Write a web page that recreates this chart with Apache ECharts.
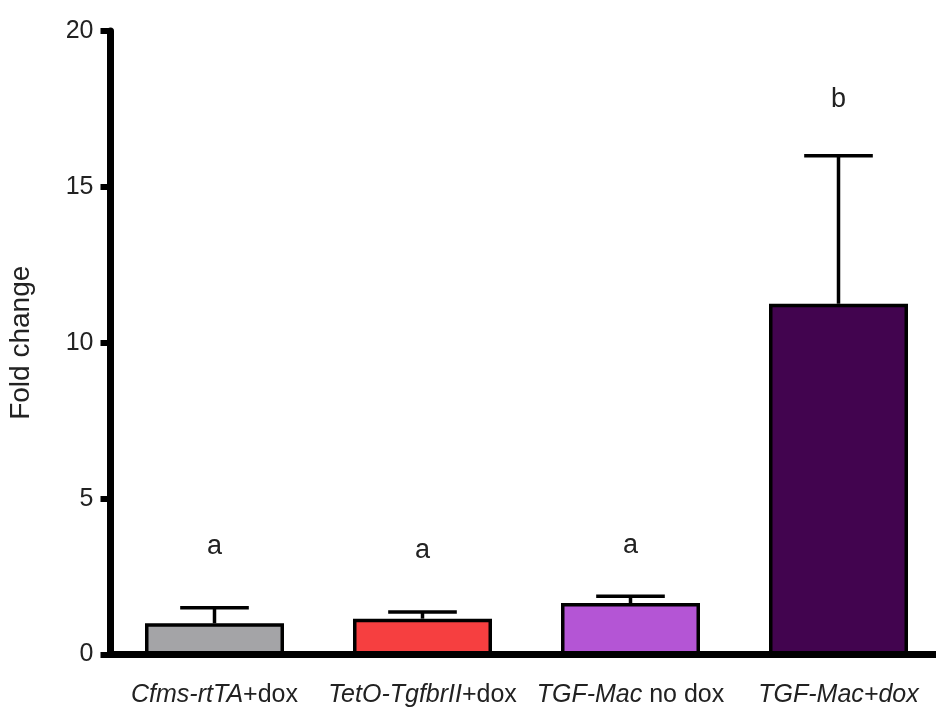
<!DOCTYPE html>
<html>
<head>
  <meta charset="UTF-8">
  <title>Fold change</title>
  <script src="https://cdn.jsdelivr.net/npm/echarts@6/dist/echarts.min.js"></script>
  <style>
    html, body { margin: 0; padding: 0; background: #fff; }
    #main { width: 936px; height: 713px; }
  </style>
</head>
<body>
<div id="main"></div>
<script>
  // groups (italic part + plain part of each label)
  var labelItalic = ['Cfms-rtTA', 'TetO-TgfbrII', 'TGF-Mac', 'TGF-Mac+dox'];
  var labelPlain = ['+dox', '+dox', ' no dox', ''];
  var categories = labelItalic.map(function (s, i) { return s + labelPlain[i]; });

  // mean and error top
  var means = [1.0, 1.15, 1.65, 11.25];
  var errTops = [1.5, 1.36, 1.87, 16.0];
  var barColors = ['#a4a4a7', '#f63f40', '#b455d5', '#42044f'];

  // significance letters and their heights
  var letters = ['a', 'a', 'a', 'b'];
  var letterY = [3.45, 3.35, 3.5, 17.8];

  var font = '"Liberation Sans", Arial, sans-serif';

  var myChart = echarts.init(document.getElementById('main'), null, { renderer: 'canvas' });

  var option = {
    backgroundColor: '#fff',
    animation: false,
    grid: {
      left: 110.5,
      top: 31,
      width: 832,
      bottom: 58.5,
      outerBoundsMode: 'none',
      containLabel: false
    },
    xAxis: {
      type: 'category',
      data: categories,
      axisLine: { lineStyle: { color: '#000', width: 7 } },
      axisTick: { alignWithLabel: true, length: 12, lineStyle: { color: '#000', width: 6 } },
      axisLabel: {
        interval: 0,
        margin: 28,
        formatter: function (v, i) {
          var s = '{i|' + labelItalic[i] + '}';
          if (labelPlain[i]) s += '{n|' + labelPlain[i] + '}';
          return s;
        },
        rich: {
          i: { fontFamily: font, fontStyle: 'italic', fontSize: 25, color: '#222' },
          n: { fontFamily: font, fontSize: 25, color: '#222' }
        }
      }
    },
    yAxis: {
      type: 'value',
      min: 0,
      max: 20,
      interval: 5,
      name: 'Fold change',
      nameLocation: 'middle',
      nameRotate: 90,
      nameGap: 75,
      nameTextStyle: { fontFamily: font, fontSize: 28, color: '#222' },
      axisLine: { show: true, lineStyle: { color: '#000', width: 7 } },
      axisTick: { show: true, length: 10, lineStyle: { color: '#000', width: 6 } },
      splitLine: { show: false },
      axisLabel: { fontFamily: font, fontSize: 25, color: '#222', margin: 17 }
    },
    series: [
      {
        type: 'bar',
        barWidth: 139,
        data: means.map(function (v, i) {
          return { value: v, itemStyle: { color: barColors[i] } };
        }),
        itemStyle: { borderColor: '#000', borderWidth: 3.5 }
      },
      {
        // error bars (upper only)
        type: 'custom',
        data: means.map(function (v, i) { return [i, v, errTops[i]]; }),
        renderItem: function (params, api) {
          var lo = api.coord([api.value(0), api.value(1)]);
          var hi = api.coord([api.value(0), api.value(2)]);
          var half = api.size([1, 0])[0] * 0.165;
          var st = { stroke: '#000', lineWidth: 3.5 };
          return {
            type: 'group',
            children: [
              { type: 'line', shape: { x1: lo[0], y1: lo[1], x2: hi[0], y2: hi[1] }, style: st },
              { type: 'line', shape: { x1: hi[0] - half, y1: hi[1], x2: hi[0] + half, y2: hi[1] }, style: st }
            ]
          };
        },
        z: 3
      },
      {
        // significance letters
        type: 'custom',
        data: letterY.map(function (v, i) { return [i, v]; }),
        renderItem: function (params, api) {
          var p = api.coord([api.value(0), api.value(1)]);
          return {
            type: 'text',
            style: {
              x: p[0], y: p[1],
              text: letters[params.dataIndex],
              font: '27px ' + font,
              fill: '#222',
              align: 'center',
              verticalAlign: 'middle'
            }
          };
        },
        z: 4
      }
    ]
  };
  myChart.setOption(option);
</script>
</body>
</html>
